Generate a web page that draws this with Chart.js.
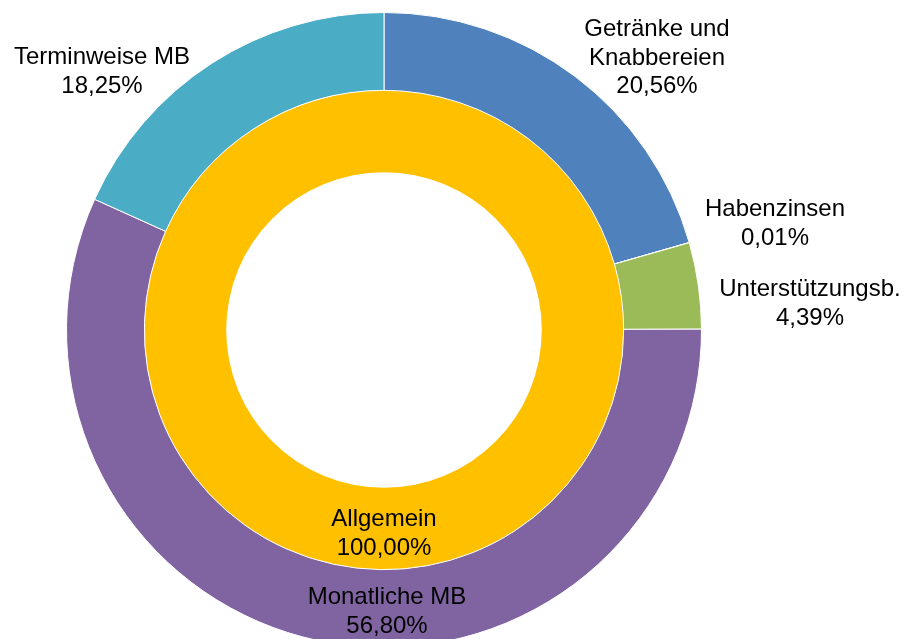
<!DOCTYPE html>
<html>
<head>
<meta charset="utf-8">
<script src="https://cdn.jsdelivr.net/npm/chart.js@4.4.1/dist/chart.umd.min.js"></script>
<style>
  html, body { margin: 0; padding: 0; background: #fff; overflow: hidden; }
  #wrap { width: 904px; height: 660px; }
</style>
</head>
<body>
<div id="wrap"><canvas id="chart" width="904" height="660"></canvas></div>
<script>
// outer ring
const outerLabels = ["Getränke und\nKnabbereien", "Habenzinsen", "Unterstützungsb.", "Monatliche MB", "Terminweise MB"];
const outerValues = [20.56, 0.01, 4.39, 56.80, 18.25];
const outerColors = ["#4F81BD", "#C0504D", "#9BBB59", "#8064A2", "#4BACC6"];

// inner ring
const innerLabels = ["Allgemein"];
const innerValues = [100.00];
const innerColors = ["#FFC000"];

// label block centres, relative to the doughnut centre
const outerLabelOffsets = [[273, -272], [391, -106], [426, -26], [3, 282], [-282, -258]];
const innerLabelOffsets = [[0, 204]];

function fmt(v) {
  return v.toFixed(2).replace(".", ",") + "%";
}

const labelPlugin = {
  id: "ringLabels",
  afterDraw(chart) {
    const ctx = chart.ctx;
    const lh = 28.5;
    ctx.save();
    ctx.font = "24px 'Liberation Sans', Arial, sans-serif";
    ctx.fillStyle = "#000";
    ctx.textAlign = "center";
    ctx.textBaseline = "middle";
    const sets = [
      [0, outerLabels, outerValues, outerLabelOffsets],
      [1, innerLabels, innerValues, innerLabelOffsets]
    ];
    sets.forEach(([di, labels, values, offs]) => {
      const arcs = chart.getDatasetMeta(di).data;
      labels.forEach((lab, i) => {
        const cx = arcs[i].x, cy = arcs[i].y;
        const lines = lab.split("\n").concat([fmt(values[i])]);
        const top = cy + offs[i][1] - (lines.length - 1) * lh / 2;
        lines.forEach((t, k) => {
          ctx.fillText(t, cx + offs[i][0], top + k * lh);
        });
      });
    });
    ctx.restore();
  }
};

new Chart(document.getElementById("chart"), {
  type: "doughnut",
  data: {
    labels: outerLabels,
    datasets: [
      {
        data: outerValues,
        backgroundColor: outerColors,
        borderColor: "#ffffff",
        borderWidth: 1,
        weight: 78
      },
      {
        data: innerValues,
        backgroundColor: innerColors,
        borderWidth: 0,
        weight: 82
      }
    ]
  },
  options: {
    responsive: false,
    animation: false,
    cutout: "49.7%",
    hoverOffset: 0,
    layout: { padding: { left: 66, right: 202, top: 12, bottom: 12 } },
    plugins: {
      legend: { display: false },
      tooltip: { enabled: false }
    }
  },
  plugins: [labelPlugin]
});
</script>
</body>
</html>
